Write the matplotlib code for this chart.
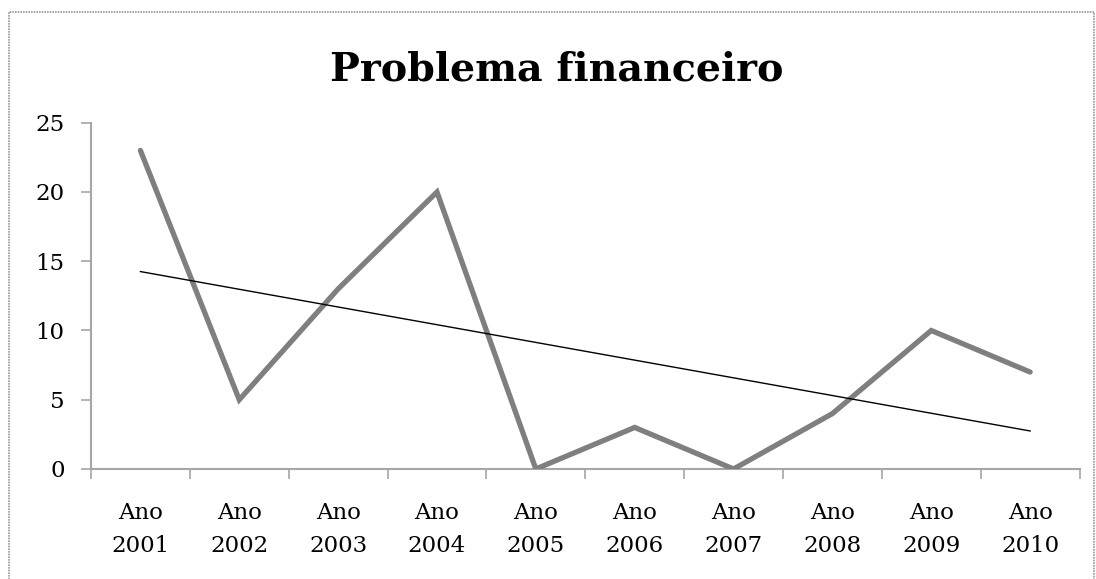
import matplotlib
matplotlib.use("Agg")
import matplotlib.pyplot as plt
from matplotlib.patches import Rectangle
import numpy as np

years = ["Ano\n2001", "Ano\n2002", "Ano\n2003", "Ano\n2004", "Ano\n2005",
         "Ano\n2006", "Ano\n2007", "Ano\n2008", "Ano\n2009", "Ano\n2010"]
values = [23, 5, 13, 20, 0, 3, 0, 4, 10, 7]

plt.rcParams["font.family"] = ["DejaVu Serif"]

fig = plt.figure(figsize=(10.96, 5.79), dpi=100)
ax = fig.add_axes([0.083, 0.190, 0.902, 0.598])

x = np.arange(1, len(values) + 1)
ax.plot(x, values, color="#7f7f7f", linewidth=3.8, solid_joinstyle="miter",
        solid_capstyle="round", zorder=3)

# linear trend line
z = np.polyfit(x, values, 1)
ax.plot(x, np.poly1d(z)(x), color="black", linewidth=1.0, zorder=4)

ax.set_xlim(0.5, len(values) + 0.5)
ax.set_ylim(0, 25)
ax.set_yticks(range(0, 26, 5))
ax.set_xticks(x)
ax.set_xticklabels(years, fontsize=16.5, linespacing=1.6)
ax.set_xticks(np.arange(0.5, len(values) + 1, 1), minor=True)
ax.tick_params(axis="x", which="major", length=0, pad=24)
ax.tick_params(axis="x", which="minor", length=7, width=1.2, color="#a6a6a6")
ax.tick_params(axis="y", length=7, width=1.2, color="#a6a6a6", labelsize=16.5, pad=12)

for side in ["top", "right"]:
    ax.spines[side].set_visible(False)
for side in ["left", "bottom"]:
    ax.spines[side].set_color("#a6a6a6")
    ax.spines[side].set_linewidth(1.5)

fig.text(0.508, 0.880, "Problema financeiro", ha="center", va="center",
         fontsize=28.5, fontweight="bold")

# outer chart border
fig.patches.append(Rectangle((0.008, -0.01), 0.99, 0.99, transform=fig.transFigure,
                             fill=False, edgecolor="#9a9a9a", linewidth=1.2, linestyle=(0, (1, 0.6))))

fig.savefig("out.png", dpi=100)
